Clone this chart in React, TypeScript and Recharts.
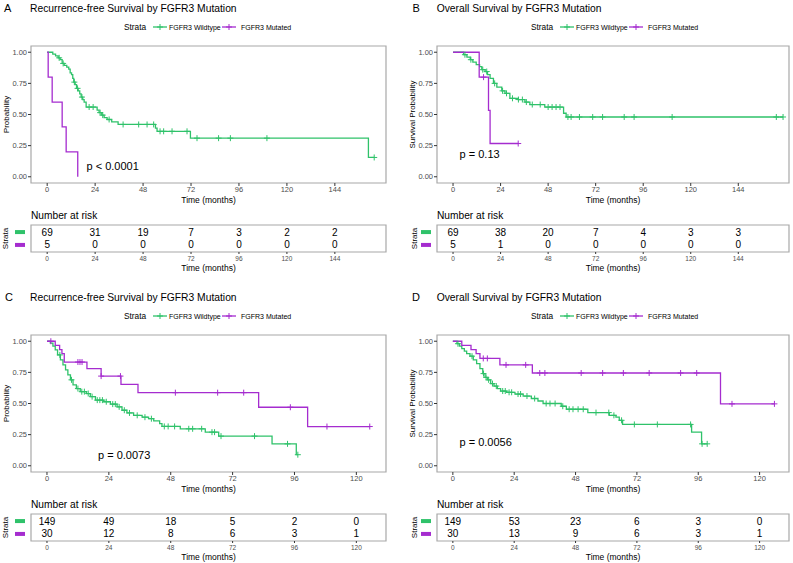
import { ComposedChart, Line, Scatter, XAxis, YAxis, ReferenceArea } from "recharts";

const GREEN = "#2fc26a";
const PURPLE = "#a52ccf";
const BORDER = "#a8a8a8";
const FONT = '"Liberation Sans", Arial, Helvetica, sans-serif';

const TICKS_LONG = [0, 24, 48, 72, 96, 120, 144];
const TICKS_SHORT = [0, 24, 48, 72, 96, 120];
const Y_TICKS = [0, 0.25, 0.5, 0.75, 1];
const DOMAIN_LONG: [number, number] = [-8.1, 169.6];
const DOMAIN_SHORT: [number, number] = [-6.2, 131.5];

// A: recurrence-free, cohort 1
const aWtTime = [0, 2.8, 4.2, 5.5, 6.5, 7.5, 8.5, 9.8, 10.8, 11.5, 12.2, 12.8, 13.3, 14, 14.7, 15.5, 16.3, 17, 17.8, 18.5, 19.5, 25, 26, 27.3, 28.5, 30, 32.3, 35.5, 54.2, 55, 71.7, 160.8, 163.7];
const aWtSurv = [1, 0.985, 0.97, 0.955, 0.94, 0.91, 0.895, 0.88, 0.865, 0.835, 0.82, 0.79, 0.76, 0.74, 0.71, 0.69, 0.665, 0.64, 0.62, 0.6, 0.56, 0.535, 0.515, 0.495, 0.475, 0.46, 0.44, 0.42, 0.39, 0.365, 0.31, 0.155, 0.155];
const aWtCens = [6, 8, 13.6, 15.2, 17.4, 21, 23, 26.5, 27.8, 31, 38, 45.8, 50, 53.3, 56.5, 58.3, 62.5, 70, 75, 85.8, 91.7, 110, 163.7];
const aMutTime = [0, 0.5, 2.5, 7.5, 9.5, 15.3];
const aMutSurv = [1, 0.8, 0.6, 0.4, 0.2, 0];
const aMutCens: number[] = [];
const aRiskWt = [69, 31, 19, 7, 3, 2, 2];
const aRiskMut = [5, 0, 0, 0, 0, 0, 0];

// B: overall, cohort 1
const bWtTime = [0, 5.3, 7, 8.7, 10, 11.7, 13.4, 14.5, 16.2, 17.4, 18.7, 20.4, 22.1, 24.6, 26.2, 28.7, 32.9, 36.3, 38.8, 46.3, 55.8, 57.1, 166.6];
const bWtSurv = [1, 0.98, 0.96, 0.94, 0.92, 0.9, 0.885, 0.86, 0.845, 0.82, 0.79, 0.75, 0.72, 0.69, 0.67, 0.63, 0.62, 0.6, 0.58, 0.56, 0.51, 0.48, 0.48];
const bWtCens = [6, 9, 15, 17, 21, 25, 27, 30, 33, 35, 37, 40, 44, 48, 50, 52, 54, 58, 59.6, 63.8, 70.5, 75.5, 86.4, 91.4, 110.6, 163.2, 166.6];
const bMutTime = [0, 13.2, 17.9, 18.7, 32.9];
const bMutSurv = [1, 0.8, 0.533, 0.267, 0.267];
const bMutCens = [15.4, 32.9];
const bRiskWt = [69, 38, 20, 7, 4, 3, 3];
const bRiskMut = [5, 1, 0, 0, 0, 0, 0];

// C: recurrence-free, cohort 2
const cWtTime = [0, 1.3, 2.3, 3.2, 4.1, 5.2, 6.2, 7.2, 8.1, 9.1, 10.1, 11.4, 12.9, 15.3, 16.8, 18.8, 22, 24.6, 27.2, 29.1, 31, 33.6, 36.9, 39.4, 41.4, 43.7, 44.6, 51.7, 61.4, 66.6, 87.3, 96.7, 97.3];
const cWtSurv = [1, 0.985, 0.96, 0.93, 0.89, 0.85, 0.81, 0.77, 0.73, 0.69, 0.65, 0.62, 0.595, 0.58, 0.555, 0.527, 0.514, 0.495, 0.473, 0.446, 0.424, 0.405, 0.39, 0.378, 0.36, 0.338, 0.316, 0.297, 0.27, 0.238, 0.176, 0.089, 0.089];
const cWtCens = [5, 9.5, 12, 13.5, 14.5, 16, 17.5, 19.5, 20.5, 21.5, 23, 25.5, 26.5, 28, 30, 32, 35, 38, 40.5, 45.5, 47, 49.5, 55, 56.5, 60, 64, 65, 67.5, 80.5, 93.3, 97.3];
const cMutTime = [0, 3.2, 4.9, 5.8, 6.7, 15.5, 21, 28.7, 35.3, 82.1, 101.1, 125.2];
const cMutSurv = [1, 0.967, 0.933, 0.9, 0.833, 0.78, 0.72, 0.653, 0.587, 0.47, 0.315, 0.315];
const cMutCens = [1.5, 12, 12.8, 13.6, 21, 28.5, 49.8, 66.2, 76.3, 94.4, 108.6, 125.2];
const cRiskWt = [149, 49, 18, 5, 2, 0];
const cRiskMut = [30, 12, 8, 6, 3, 1];

// D: overall, cohort 2
const dWtTime = [0, 1.6, 2.6, 3.5, 4.5, 5.4, 6.7, 8, 9.3, 10.6, 11.7, 12.6, 13.5, 14.8, 16.1, 17.4, 18.7, 21, 24.3, 27.5, 30.7, 33.3, 35.3, 42.4, 44.4, 52.8, 61.2, 63.8, 65.1, 66.4, 93.4, 97.3, 99.5];
const dWtSurv = [1, 0.98, 0.96, 0.94, 0.92, 0.9, 0.88, 0.85, 0.82, 0.78, 0.74, 0.71, 0.69, 0.66, 0.64, 0.62, 0.6, 0.59, 0.576, 0.56, 0.54, 0.52, 0.5, 0.478, 0.454, 0.427, 0.405, 0.39, 0.365, 0.332, 0.27, 0.176, 0.176];
const dWtCens = [2, 7.5, 12, 13, 14, 15.5, 17, 19.5, 20.5, 22, 23, 25.5, 26.5, 29, 32, 36.5, 38, 40, 43, 45.5, 47, 49, 51, 56, 61, 63, 66, 71, 80, 93, 97.5, 99.5];
const dMutTime = [0, 3.5, 7.1, 9.1, 10.6, 18.4, 31.1, 104.7, 125.8];
const dMutSurv = [1, 0.966, 0.933, 0.9, 0.862, 0.81, 0.745, 0.497, 0.497];
const dMutCens = [11.9, 13.5, 20.8, 28.5, 34, 36, 50.2, 58.6, 66.7, 76.8, 89.1, 95.4, 109.2, 125.8];
const dRiskWt = [149, 53, 23, 6, 3, 0];
const dRiskMut = [30, 13, 9, 6, 3, 1];

type Curve = { time: number[]; surv: number[]; cens: number[]; color: string };

function survAt(time: number[], surv: number[], t: number) {
  let s = surv[0];
  for (let i = 0; i < time.length; i++) if (time[i] <= t) s = surv[i];
  return s;
}

const plusShape = (color: string) => (p: any) => (
  <path d={`M${p.cx - 3},${p.cy}h6M${p.cx},${p.cy - 3}v6`} stroke={color} strokeWidth={1} fill="none" />
);

const tickStyle = { fontSize: 7.5, fill: "#4d4d4d", fontFamily: FONT };

function KMPlot(props: {
  left: number; top: number; width: number; axisW: number; right: number;
  domain: [number, number]; ticks: number[]; curves: Curve[];
  pText: string; pT: number; pS: number;
}) {
  const { left, top, width, axisW, right, domain, ticks, curves, pText, pT, pS } = props;
  return (
    <div style={{ position: "absolute", left, top, width, height: 170 }}>
      <ComposedChart width={width} height={170} margin={{ top: 6, right, bottom: 0, left: 0 }}>
        <XAxis
          type="number" dataKey="t" domain={domain} ticks={ticks} allowDataOverflow interval={0}
          axisLine={false} tickLine={{ stroke: "#333" }} tickSize={3} tickMargin={1}
          tick={tickStyle} height={27}
          label={{ value: "Time (months)", position: "insideBottom", offset: 7, fontSize: 8.5, fill: "#000", fontFamily: FONT }}
        />
        <YAxis
          type="number" domain={[-0.05, 1.05]} ticks={Y_TICKS} allowDataOverflow width={axisW}
          axisLine={false} tickLine={{ stroke: "#333" }} tickSize={3} tickMargin={1}
          tick={tickStyle} tickFormatter={(v: number) => v.toFixed(2)}
        />
        {curves.map((c, i) => (
          <Line
            key={`l${i}`} data={c.time.map((t, j) => ({ t, s: c.surv[j] }))} dataKey="s"
            type="stepAfter" stroke={c.color} strokeWidth={1.3} dot={false} isAnimationActive={false}
          />
        ))}
        {curves.map((c, i) => (
          <Scatter
            key={`c${i}`} data={c.cens.map((t) => ({ t, s: survAt(c.time, c.surv, t) }))} dataKey="s"
            shape={plusShape(c.color)} isAnimationActive={false}
          />
        ))}
        <Scatter
          data={[{ t: pT, s: pS }]} dataKey="s" isAnimationActive={false}
          shape={(p: any) => (
            <text x={p.cx} y={p.cy} fontSize={11} fontFamily={FONT} dominantBaseline="central" fill="#000">{pText}</text>
          )}
        />
        <ReferenceArea x1={domain[0]} x2={domain[1]} y1={-0.05} y2={1.05} fill="none" stroke={BORDER} strokeWidth={1.2} ifOverflow="visible" />
      </ComposedChart>
    </div>
  );
}

function RiskTable(props: {
  left: number; top: number; width: number; axisW: number; right: number;
  domain: [number, number]; ticks: number[]; wt: number[]; mut: number[];
}) {
  const { left, top, width, axisW, right, domain, ticks, wt, mut } = props;
  const cells = [
    ...ticks.map((t, i) => ({ t, row: 2, n: wt[i] })),
    ...ticks.map((t, i) => ({ t, row: 1, n: mut[i] })),
  ];
  return (
    <div style={{ position: "absolute", left, top, width, height: 55 }}>
      <ComposedChart width={width} height={55} margin={{ top: 6, right, bottom: 0, left: 0 }}>
        <XAxis
          type="number" dataKey="t" domain={domain} ticks={ticks} interval={0}
          axisLine={false} tickLine={{ stroke: "#333" }} tickSize={2} tickMargin={2}
          tick={{ fontSize: 6.5, fill: "#4d4d4d", fontFamily: FONT }} height={22}
          label={{ value: "Time (months)", position: "insideBottom", offset: 3, fontSize: 8.5, fill: "#000", fontFamily: FONT }}
        />
        <YAxis type="number" domain={[0.45, 2.55]} ticks={[1, 2]} width={axisW} axisLine={false} tickLine={false} tick={false} />
        <Scatter
          data={cells} dataKey="row" isAnimationActive={false}
          shape={(p: any) => {
            const d = p.payload ?? p;
            return (
              <g>
                {d.t === ticks[0] && (
                  <rect x={axisW - 16} y={p.cy - 2} width={10} height={4} fill={d.row === 2 ? GREEN : PURPLE} />
                )}
                <text x={p.cx} y={p.cy} textAnchor="middle" dominantBaseline="central" fontSize={10} fontFamily={FONT} fill="#000">
                  {d.n}
                </text>
              </g>
            );
          }}
        />
        <ReferenceArea x1={domain[0]} x2={domain[1]} y1={0.45} y2={2.55} fill="none" stroke={BORDER} strokeWidth={1.2} ifOverflow="visible" />
      </ComposedChart>
    </div>
  );
}

function LegendRow({ x, y }: { x: number; y: number }) {
  const key = (x1: number, color: string) => (
    <g>
      <line x1={x1} x2={x1 + 14} y1={y} y2={y} stroke={color} strokeWidth={1.3} />
      <path d={`M${x1 + 4},${y}h6M${x1 + 7},${y - 3}v6`} stroke={color} strokeWidth={1} />
    </g>
  );
  return (
    <g fontFamily={FONT} dominantBaseline="central">
      <text x={x} y={y} fontSize={8.3}>Strata</text>
      {key(x + 29, GREEN)}
      <text x={x + 45} y={y} fontSize={7}>FGFR3 Wildtype</text>
      {key(x + 98, PURPLE)}
      <text x={x + 117} y={y} fontSize={7}>FGFR3 Mutated</text>
    </g>
  );
}

function PanelText({ lx, tx, y, letter, title, ylab, plotMid, legendX, axisLabX, riskX, riskY, dashStrataX }: any) {
  return (
    <g fontFamily={FONT} fill="#000">
      <text x={lx} y={y} fontSize={11} dominantBaseline="central">{letter}</text>
      <text x={tx} y={y} fontSize={10.3} dominantBaseline="central">{title}</text>
      <LegendRow x={legendX} y={y + 19} />
      <text x={axisLabX} y={plotMid} fontSize={8} textAnchor="middle" dominantBaseline="central" transform={`rotate(-90 ${axisLabX} ${plotMid})`}>{ylab}</text>
      <text x={riskX} y={riskY} fontSize={10.2} dominantBaseline="central">Number at risk</text>
      <text x={dashStrataX} y={riskY + 23.5} fontSize={8} textAnchor="middle" dominantBaseline="central" transform={`rotate(-90 ${dashStrataX} ${riskY + 23.5})`}>Strata</text>
    </g>
  );
}

export default function App() {
  const L = { left: 0, width: 396, axisW: 31, right: 10 };
  const R = { left: 400, width: 393, axisW: 37, right: 4 };
  return (
    <div style={{ position: "absolute", left: 0, top: 0, width: 793, height: 563, background: "#fff", fontFamily: FONT, overflow: "hidden" }}>
      <KMPlot {...L} top={40} domain={DOMAIN_LONG} ticks={TICKS_LONG}
        curves={[
          { time: aWtTime, surv: aWtSurv, cens: aWtCens, color: GREEN },
          { time: aMutTime, surv: aMutSurv, cens: aMutCens, color: PURPLE },
        ]}
        pText="p < 0.0001" pT={19.7} pS={0.09} />
      <KMPlot {...R} top={40} domain={DOMAIN_LONG} ticks={TICKS_LONG}
        curves={[
          { time: bWtTime, surv: bWtSurv, cens: bWtCens, color: GREEN },
          { time: bMutTime, surv: bMutSurv, cens: bMutCens, color: PURPLE },
        ]}
        pText="p = 0.13" pT={3.3} pS={0.18} />
      <KMPlot {...L} top={329} domain={DOMAIN_SHORT} ticks={TICKS_SHORT}
        curves={[
          { time: cWtTime, surv: cWtSurv, cens: cWtCens, color: GREEN },
          { time: cMutTime, surv: cMutSurv, cens: cMutCens, color: PURPLE },
        ]}
        pText="p = 0.0073" pT={19.8} pS={0.09} />
      <KMPlot {...R} top={329} domain={DOMAIN_SHORT} ticks={TICKS_SHORT}
        curves={[
          { time: dWtTime, surv: dWtSurv, cens: dWtCens, color: GREEN },
          { time: dMutTime, surv: dMutSurv, cens: dMutCens, color: PURPLE },
        ]}
        pText="p = 0.0056" pT={2.6} pS={0.19} />

      <RiskTable {...L} top={219} domain={DOMAIN_LONG} ticks={TICKS_LONG} wt={aRiskWt} mut={aRiskMut} />
      <RiskTable {...R} top={219} domain={DOMAIN_LONG} ticks={TICKS_LONG} wt={bRiskWt} mut={bRiskMut} />
      <RiskTable {...L} top={508} domain={DOMAIN_SHORT} ticks={TICKS_SHORT} wt={cRiskWt} mut={cRiskMut} />
      <RiskTable {...R} top={508} domain={DOMAIN_SHORT} ticks={TICKS_SHORT} wt={dRiskWt} mut={dRiskMut} />

      <svg width={793} height={563} style={{ position: "absolute", left: 0, top: 0, pointerEvents: "none" }}>
        <PanelText lx={4} tx={30} y={8} letter="A" title="Recurrence-free Survival by FGFR3 Mutation" ylab="Probability"
          plotMid={114.5} legendX={124} axisLabX={6.5} riskX={31} riskY={215} dashStrataX={5.5} />
        <PanelText lx={412.5} tx={436.7} y={8} letter="B" title="Overall Survival by FGFR3 Mutation" ylab="Survival Probability"
          plotMid={114.5} legendX={531} axisLabX={412.5} riskX={437} riskY={215} dashStrataX={414} />
        <PanelText lx={5} tx={30} y={297} letter="C" title="Recurrence-free Survival by FGFR3 Mutation" ylab="Probability"
          plotMid={403.5} legendX={124} axisLabX={6.5} riskX={31} riskY={504} dashStrataX={5.5} />
        <PanelText lx={412} tx={436.7} y={297} letter="D" title="Overall Survival by FGFR3 Mutation" ylab="Survival Probability"
          plotMid={403.5} legendX={531} axisLabX={412.5} riskX={437} riskY={504} dashStrataX={414} />
      </svg>
    </div>
  );
}
